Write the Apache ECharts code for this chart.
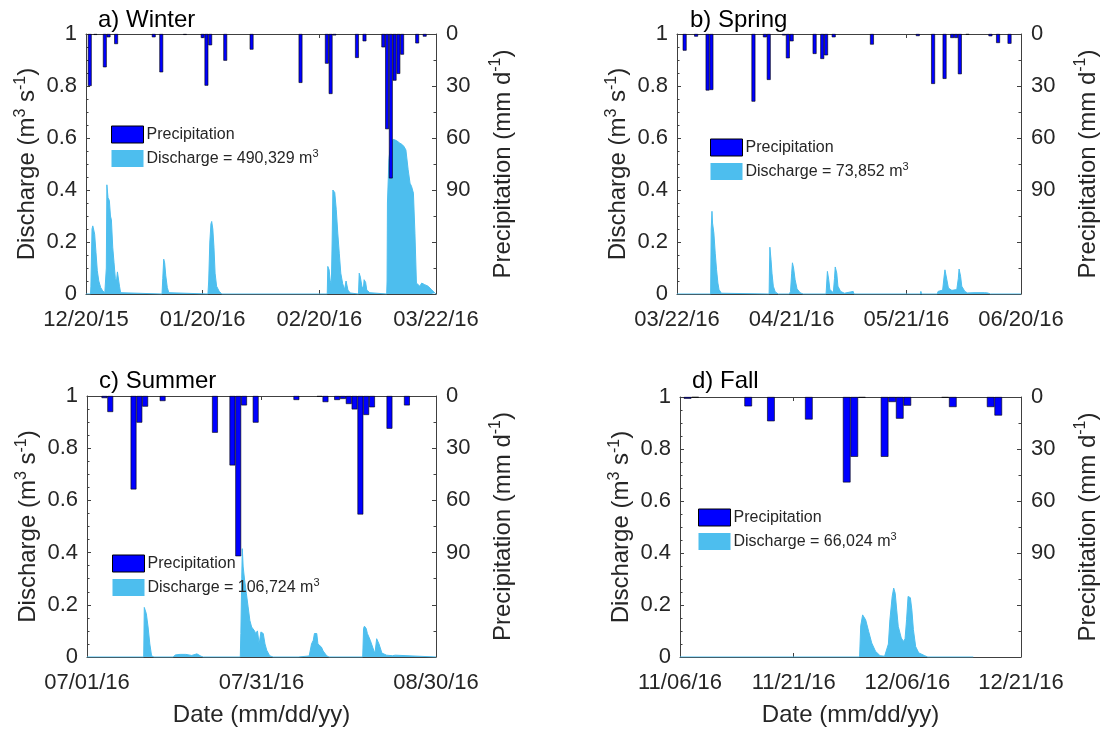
<!DOCTYPE html>
<html><head><meta charset="utf-8">
<script src="https://cdn.jsdelivr.net/npm/echarts@6/dist/echarts.min.js"></script>
<style>html,body{margin:0;padding:0;background:#fff}#c{width:1104px;height:731px}</style>
</head><body><div id="c"></div>
<script>
// ---------------- data ----------------
const titles = ['a) Winter', 'b) Spring', 'c) Summer', 'd) Fall'];
const ticksA = ['12/20/15', '01/20/16', '02/20/16', '03/22/16'];
const ticksB = ['03/22/16', '04/21/16', '05/21/16', '06/20/16'];
const ticksC = ['07/01/16', '07/31/16', '08/30/16'];
const ticksD = ['11/06/16', '11/21/16', '12/06/16', '12/21/16'];
const tickStepDays = [31, 30, 30, 15];
const volumes = ['490,329', '73,852', '106,724', '66,024'];

// precipitation [day, mm/d]
const precipA = [[1,30],[2.5,0.5],[5,19.2],[6,1.9],[8,5.8],[18,1.9],[20,22.1],[26.3,0.5],[31,2.3],[32,29.8],[33,6.5],[37,15.4],[44,9.0],[57,28.2],[64,17.1],[65,34.6],[66,0.8],[72,13.8],[74,4.2],[79,7.7],[80,54.9],[81,83.3],[82,26.9],[83,23.0],[84,11.9],[88,5.4],[90,1.5]];
const precipB = [[2,9.6],[5,1.5],[8,32.6],[9,32.3],[20,39.0],[23,1.9],[24,26.5],[28,0.8],[29,14.0],[30,4.2],[36,11.5],[38,14.4],[39,12.3],[41,1.9],[51,6.1],[63,1.2],[67,28.8],[70,25.9],[72,2.3],[73,2.3],[74,23.2],[76,0.4],[82,1.3],[84,5.2],[87,5.6]];
const precipC = [[3,1.2],[4,9.2],[8,53.7],[9,15.3],[10,6.1],[13,2.9],[22,21.1],[25,39.9],[26,92.1],[27,5.4],[29,15.3],[36,2.3],[40,0.4],[41,3.5],[43,2.3],[44,1.7],[45,4.6],[46,7.7],[47,68.1],[48,10.9],[49,6.5],[52,18.8],[55,5.4]];
const precipD = [[1,1.0],[2,0.3],[9,5.4],[12,14.0],[17,13.0],[22,49.3],[23,34.5],[24,0.4],[27,34.5],[28,2.9],[29,12.5],[30,5.0],[35,0.4],[36,5.8],[41,5.8],[42,10.7]];

// discharge [day, m3/s]
const dischargeA = [[0,0],[1.2,0],[1.3,0.03],[1.6,0.25],[1.8,0.262],[2.0,0.25],[2.3,0.23],[2.65,0.16],[3.0,0.09],[3.4,0.05],[3.9,0.025],[4.45,0.012],[5.0,0.005],[5.3,0.005],[5.4,0.1],[5.55,0.42],[5.65,0.424],[5.85,0.37],[6.2,0.36],[6.5,0.30],[6.75,0.285],[7.1,0.18],[7.45,0.12],[7.8,0.06],[8.1,0.05],[8.35,0.085],[8.6,0.08],[8.9,0.03],[9.2,0.005],[9.6,0],
[20.2,0],[20.4,0.06],[20.65,0.134],[20.9,0.12],[21.2,0.07],[21.6,0.025],[22.0,0.005],[22.5,0],
[32.4,0],[32.6,0.05],[32.9,0.2],[33.2,0.27],[33.4,0.279],[33.7,0.25],[34.0,0.18],[34.3,0.08],[34.7,0.03],[35.4,0.01],[36.1,0],
[64.1,0],[64.25,0.106],[64.6,0.093],[64.9,0.05],[65.2,0.04],[65.4,0.2],[65.6,0.40],[65.8,0.403],[66.1,0.39],[66.5,0.324],[66.9,0.234],[67.3,0.157],[67.7,0.08],[68.2,0.04],[68.7,0.017],[69.1,0.05],[69.3,0.045],[69.6,0.015],[70.2,0.004],[72.4,0],[72.6,0.08],[72.9,0.065],[73.3,0.03],[73.7,0.02],[73.9,0.055],[74.3,0.045],[74.6,0.015],[75.4,0.005],[79.9,0],[80.0,0.05],[80.1,0.35],[80.5,0.52],[81.0,0.58],[81.6,0.595],[82.5,0.59],[83.4,0.58],[84.0,0.575],[84.5,0.567],[85.0,0.554],[85.4,0.55],[85.6,0.478],[86.1,0.426],[86.5,0.414],[87.0,0.388],[87.4,0.234],[87.8,0.042],[88.3,0.036],[88.7,0.03],[89.2,0.042],[90.0,0.036],[90.9,0.03],[91.8,0.017],[92.7,0.004],[93,0]];
const dischargeB = [[0,0],[8.8,0],[8.95,0.25],[9.15,0.318],[9.3,0.273],[9.65,0.234],[10.0,0.157],[10.35,0.093],[10.7,0.042],[11.0,0.017],[11.6,0.003],[24.1,0],[24.2,0.1],[24.3,0.18],[24.6,0.132],[24.85,0.08],[25.2,0.03],[25.7,0.008],[26.5,0],[29.4,0],[29.7,0.01],[30.0,0.08],[30.2,0.12],[30.5,0.10],[30.9,0.055],[31.4,0.02],[32.2,0.005],[33,0],[39.0,0],[39.2,0.05],[39.35,0.087],[39.7,0.055],[40.0,0.017],[40.9,0.005],[41.2,0.06],[41.4,0.104],[41.8,0.08],[42.1,0.03],[42.8,0.01],[43.8,0.003],[46.1,0.01],[46.3,0],[63.7,0],[63.8,0.01],[64,0],[68.1,0],[68.3,0.01],[69.5,0.015],[69.9,0.07],[70.1,0.093],[70.6,0.055],[71.0,0.023],[71.9,0.014],[73.2,0.017],[73.6,0.06],[73.8,0.096],[74.2,0.068],[74.5,0.03],[75.3,0.01],[76,0.004],[77.7,0.005],[77.9,0.012],[78.2,0.004],[80.5,0.005],[80.8,0.012],[81.3,0.004],[82,0],[90,0]];
const dischargeC = [[0,0],[9.75,0],[9.85,0.19],[9.95,0.192],[10.2,0.166],[10.5,0.115],[10.8,0.05],[11.1,0.005],[11.5,0],[14.8,0],[15.2,0.008],[16,0.01],[17,0.01],[18,0.006],[18.9,0.012],[19.2,0.006],[19.6,0.003],[20,0],
[26.35,0],[26.45,0.09],[26.6,0.3],[26.7,0.415],[26.85,0.345],[27.1,0.294],[27.4,0.243],[27.7,0.192],[28.0,0.14],[28.3,0.115],[28.6,0.109],[28.8,0.1],[29.0,0.09],[29.3,0.1],[29.6,0.05],[29.9,0.096],[30.3,0.09],[30.6,0.05],[30.9,0.026],[31.4,0.005],[32,0],
[36.3,0],[36.4,0.003],[38.2,0.004],[38.6,0.05],[38.9,0.064],[39.1,0.09],[39.5,0.09],[39.7,0.05],[40.0,0.045],[40.3,0.038],[40.6,0.023],[41.2,0.005],[41.6,0],
[47.4,0],[47.55,0.11],[47.7,0.118],[48.0,0.109],[48.2,0.09],[48.7,0.064],[49.1,0.038],[49.5,0.013],[49.8,0.07],[50.0,0.07],[50.2,0.05],[50.7,0.015],[51.5,0.007],[52.5,0.005],[53.0,0.007],[53.1,0],[60,0]];
const dischargeD = [[0,0],[23.7,0],[23.85,0.12],[24.1,0.162],[24.5,0.143],[24.9,0.098],[25.3,0.054],[25.8,0.022],[26.4,0.005],[27.0,0.003],[27.5,0.05],[27.7,0.143],[28.0,0.233],[28.2,0.265],[28.4,0.245],[28.6,0.18],[28.8,0.118],[29.2,0.073],[29.5,0.06],[29.7,0.07],[29.9,0.143],[30.1,0.233],[30.4,0.228],[30.6,0.18],[30.8,0.105],[31.1,0.04],[31.5,0.016],[32.3,0.005],[32.7,0],[38.7,0]];

// ---------------- layout / style ----------------
const FONT = "'Liberation Sans', Arial, Helvetica, sans-serif";
const TXT = '#262626';
const AX = '#404040';
const QC = '#4DBEEE';
const PC = '#0000FF';

const panels = [
  {ticks: ticksA, precip: precipA, q: dischargeA, grid: {left: 86, top: 34, width: 350, height: 260}, legend: {left: 111, top: 124}, title: {left: 98, top: 8}, date: false},
  {ticks: ticksB, precip: precipB, q: dischargeB, grid: {left: 677, top: 34, width: 348, height: 260}, legend: {left: 710, top: 137}, title: {left: 690, top: 8}, date: false},
  {ticks: ticksC, precip: precipC, q: dischargeC, grid: {left: 87, top: 396, width: 349, height: 261}, legend: {left: 112, top: 553}, title: {left: 99, top: 369}, date: true},
  {ticks: ticksD, precip: precipD, q: dischargeD, grid: {left: 680, top: 397, width: 343, height: 260}, legend: {left: 698, top: 507}, title: {left: 692, top: 369}, date: true}
];

const supRich = (fs) => ({
  sup: {fontSize: fs, fontFamily: FONT, color: TXT, verticalAlign: 'top', lineHeight: fs}
});

const option = {animation: false, backgroundColor: '#fff', grid: [], xAxis: [], yAxis: [], series: [], legend: [], title: []};

panels.forEach((p, i) => {
  const step = tickStepDays[i];
  const days = step * (p.ticks.length - 1);
  const qName = 'Discharge = ' + volumes[i] + ' m3';
  option.grid.push(Object.assign({}, p.grid));
  option.title.push({text: titles[i], left: p.title.left, top: p.title.top, padding: 0,
    textStyle: {fontSize: 24, fontWeight: 'normal', color: '#000', fontFamily: FONT}});
  const xBase = {type: 'value', gridIndex: i, min: 0, max: days, interval: step,
    splitLine: {show: false},
    axisLine: {show: true, onZero: false, lineStyle: {color: AX, width: 1}},
    axisTick: {show: true, inside: true, length: 4, lineStyle: {color: AX}}};
  option.xAxis.push(Object.assign({}, xBase, {position: 'bottom',
    axisLabel: {show: true, margin: 15, color: TXT, fontSize: 22, fontFamily: FONT,
      formatter: v => p.ticks[Math.round(v / step)]},
    name: p.date ? 'Date (mm/dd/yy)' : '', nameLocation: 'middle', nameGap: 46,
    nameTextStyle: {fontSize: 24, color: TXT, fontFamily: FONT}}));
  option.xAxis.push(Object.assign({}, xBase, {position: 'top', axisLabel: {show: false}}));
  option.yAxis.push({type: 'value', gridIndex: i, position: 'left', min: 0, max: 1, interval: 0.2,
    splitLine: {show: false},
    axisLine: {show: true, onZero: false, lineStyle: {color: AX}},
    axisTick: {show: true, inside: true, length: 4, lineStyle: {color: AX}},
    minorTick: {show: true, splitNumber: 4, length: 2.5, lineStyle: {color: AX}},
    axisLabel: {margin: 9, color: TXT, fontSize: 22, fontFamily: FONT},
    name: 'Discharge (m{sup|3} s{sup|-1})', nameLocation: 'middle', nameGap: 40,
    nameTextStyle: {fontSize: 24, color: TXT, fontFamily: FONT, lineHeight: 30, rich: supRich(16)}});
  option.yAxis.push({type: 'value', gridIndex: i, position: 'right', min: 0, max: 150, interval: 30, inverse: true,
    splitLine: {show: false},
    axisLine: {show: true, onZero: false, lineStyle: {color: AX}},
    axisTick: {show: true, inside: true, length: 4, lineStyle: {color: AX}},
    minorTick: {show: true, splitNumber: 2, length: 2.5, lineStyle: {color: AX}},
    axisLabel: {margin: 10, color: TXT, fontSize: 22, fontFamily: FONT, formatter: v => (v <= 90 ? String(v) : '')},
    name: 'Precipitation (mm d{sup|-1})', nameLocation: 'middle', nameGap: 52,
    nameTextStyle: {fontSize: 24, color: TXT, fontFamily: FONT, lineHeight: 30, rich: supRich(16)}});
  option.series.push({type: 'line', name: qName, xAxisIndex: 2 * i, yAxisIndex: 2 * i,
    data: p.q, showSymbol: false, symbol: 'none', silent: true,
    lineStyle: {color: QC, width: 1}, itemStyle: {color: QC}, areaStyle: {color: QC, opacity: 1}, z: 2});
  option.series.push({type: 'bar', name: 'Precipitation', xAxisIndex: 2 * i, yAxisIndex: 2 * i + 1,
    data: p.precip, barWidth: p.grid.width / days, silent: true,
    itemStyle: {color: PC, borderColor: '#000', borderWidth: 0.6}, z: 3});
  option.legend.push({left: p.legend.left, top: p.legend.top, orient: 'vertical', padding: 0,
    itemGap: 3, itemWidth: 32, itemHeight: 17, selectedMode: false,
    textStyle: {fontSize: 16, color: TXT, fontFamily: FONT, lineHeight: 21, padding: [0, 0, 0, -2], rich: {
      sup: {fontSize: 11, fontFamily: FONT, color: TXT, verticalAlign: 'top', lineHeight: 11}}},
    formatter: n => n.replace(/m3$/, 'm{sup|3}'),
    data: [
      {name: 'Precipitation', icon: 'rect', itemStyle: {color: PC, borderColor: '#000', borderWidth: 1}},
      {name: qName, icon: 'rect', itemStyle: {color: QC, borderWidth: 0}}
    ]});
});

const chart = echarts.init(document.getElementById('c'), null, {renderer: 'canvas'});
chart.setOption(option);
</script>
</body></html>
